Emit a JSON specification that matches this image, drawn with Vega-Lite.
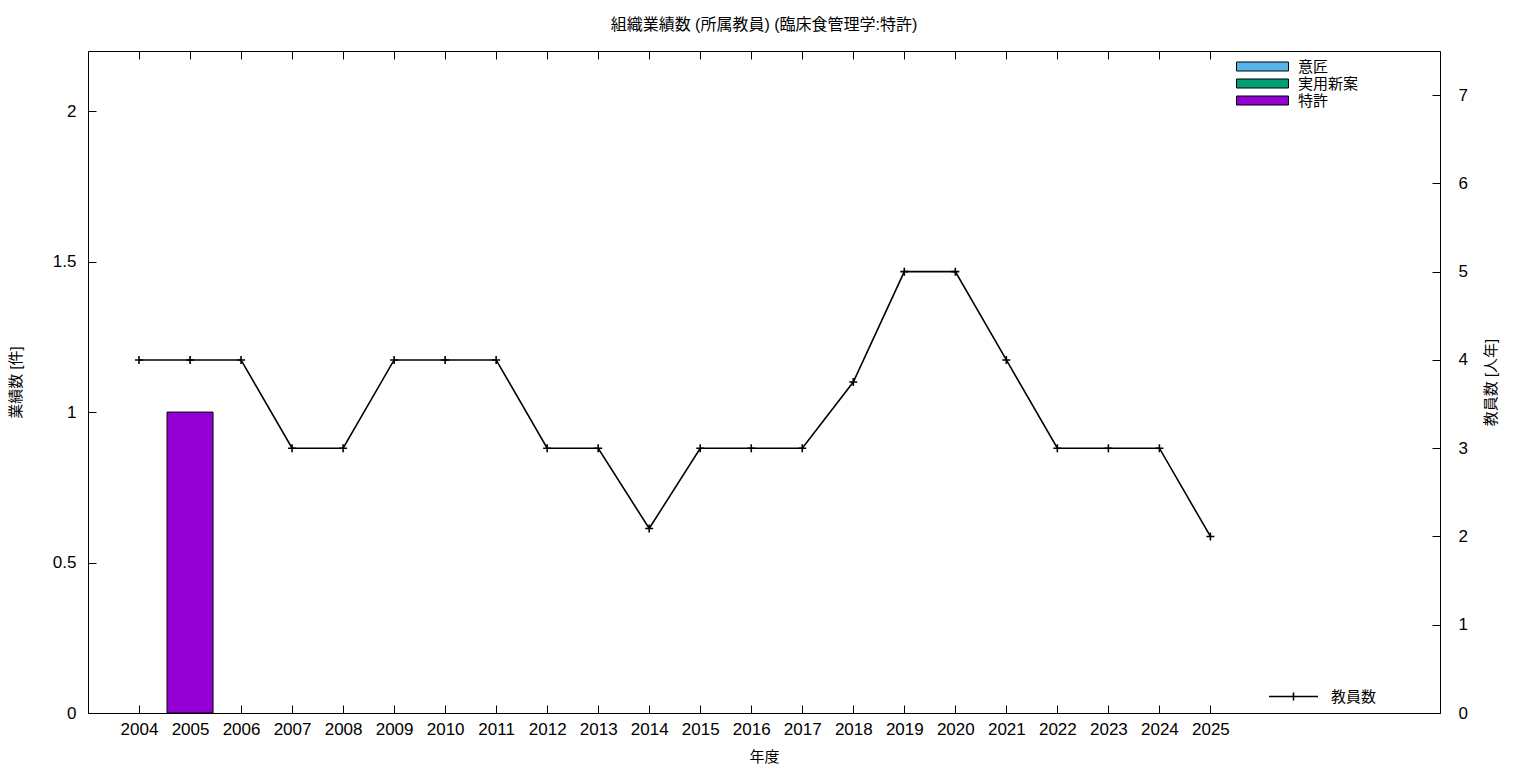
{
  "$schema": "https://vega.github.io/schema/vega-lite/v6.json",
  "autosize": "none",
  "width": 1352,
  "height": 662,
  "padding": {"left": 88, "top": 51, "right": 96, "bottom": 55},
  "background": "white",
  "title": {"text": "組織業績数 (所属教員) (臨床食管理学:特許)", "fontSize": 16, "fontWeight": "normal", "font": "Liberation Sans, Noto Sans CJK JP", "color": "black", "offset": 18},
  "config": {
    "view": {"stroke": "black", "strokeWidth": 1},
    "font": "Liberation Sans, Noto Sans CJK JP",
    "axis": {"domain": false, "grid": false, "tickColor": "black", "labelColor": "black", "titleColor": "black", "labelFont": "Liberation Sans, Noto Sans CJK JP", "titleFont": "Liberation Sans, Noto Sans CJK JP", "labelFontSize": 17, "titleFontSize": 15, "titleFontWeight": "normal", "tickSize": -8, "tickWidth": 1},
    "legend": {"labelFont": "Liberation Sans, Noto Sans CJK JP", "labelFontSize": 15, "labelColor": "black", "padding": 0, "title": null}
  },
  "datasets": {
    "works": [
      {"year": 2005, "type": "特許", "value": 1}
    ],
    "teachers": [
      {"year": 2004, "count": 4},
      {"year": 2005, "count": 4},
      {"year": 2006, "count": 4},
      {"year": 2007, "count": 3},
      {"year": 2008, "count": 3},
      {"year": 2009, "count": 4},
      {"year": 2010, "count": 4},
      {"year": 2011, "count": 4},
      {"year": 2012, "count": 3},
      {"year": 2013, "count": 3},
      {"year": 2014, "count": 2.09},
      {"year": 2015, "count": 3},
      {"year": 2016, "count": 3},
      {"year": 2017, "count": 3},
      {"year": 2018, "count": 3.75},
      {"year": 2019, "count": 5},
      {"year": 2020, "count": 5},
      {"year": 2021, "count": 4},
      {"year": 2022, "count": 3},
      {"year": 2023, "count": 3},
      {"year": 2024, "count": 3},
      {"year": 2025, "count": 2}
    ]
  },
  "layer": [
    {
      "data": {"name": "works"},
      "mark": {"type": "bar", "width": 46, "stroke": "black", "strokeWidth": 1, "opacity": 1},
      "encoding": {
        "x": {"field": "year", "type": "quantitative", "scale": {"domain": [2003, 2029.5], "nice": false, "zero": false, "padding": 0},
          "axis": {"orient": "bottom", "values": [2004,2005,2006,2007,2008,2009,2010,2011,2012,2013,2014,2015,2016,2017,2018,2019,2020,2021,2022,2023,2024,2025], "format": "d", "title": "年度", "labelPadding": 16, "titleFontSize": 15, "titlePadding": 12}},
        "y": {"field": "value", "type": "quantitative", "scale": {"domain": [0, 2.2], "nice": false, "zero": true, "padding": 0},
          "axis": {"orient": "left", "values": [0, 0.5, 1, 1.5, 2], "format": "~g", "title": "業績数 [件]", "labelPadding": 20, "titlePadding": 29}},
        "fill": {"field": "type", "type": "nominal",
          "scale": {"domain": ["意匠", "実用新案", "特許"], "range": ["#56b4e9", "#009e73", "#9400d3"]},
          "legend": {"orient": "none", "legendX": 1167, "legendY": 8, "symbolType": "M-5.2,-0.9H5.2V0.9H-5.2Z", "symbolSize": 100, "symbolStrokeColor": "black", "symbolStrokeWidth": 1, "symbolOpacity": 1, "labelOffset": 28, "rowPadding": 1}}
      }
    },
    {
      "data": {"name": "teachers"},
      "layer": [
        {
          "mark": {"type": "line", "strokeWidth": 1.6},
          "encoding": {
            "x": {"field": "year", "type": "quantitative", "scale": {"domain": [2003, 2029.5], "nice": false, "zero": false, "padding": 0},
              "axis": {"orient": "top", "values": [2004,2005,2006,2007,2008,2009,2010,2011,2012,2013,2014,2015,2016,2017,2018,2019,2020,2021,2022,2023,2024,2025], "labels": false, "title": null}},
            "y": {"field": "count", "type": "quantitative", "scale": {"domain": [0, 7.5], "nice": false},
              "axis": {"orient": "right", "values": [0,1,2,3,4,5,6,7], "format": "d", "title": "教員数 [人年]", "titleAngle": -90, "labelPadding": 26, "titlePadding": 31}},
            "stroke": {"datum": "教員数", "type": "nominal", "scale": {"range": ["black"]},
              "legend": {"orient": "none", "legendX": 1198, "legendY": 638, "symbolType": "M-4.9,0H4.9M0,-0.8V0.8", "symbolSize": 100, "symbolStrokeWidth": 1.6, "symbolStrokeColor": "black", "labelOffset": 30}}
          }
        },
        {
          "mark": {"type": "point", "shape": "M-1,0H1M0,-1V1", "size": 64, "filled": false, "stroke": "black", "strokeWidth": 1.6, "opacity": 1},
          "encoding": {
            "x": {"field": "year", "type": "quantitative"},
            "y": {"field": "count", "type": "quantitative"}
          }
        }
      ]
    }
  ],
  "resolve": {"scale": {"y": "independent"}, "axis": {"x": "independent"}}
}
